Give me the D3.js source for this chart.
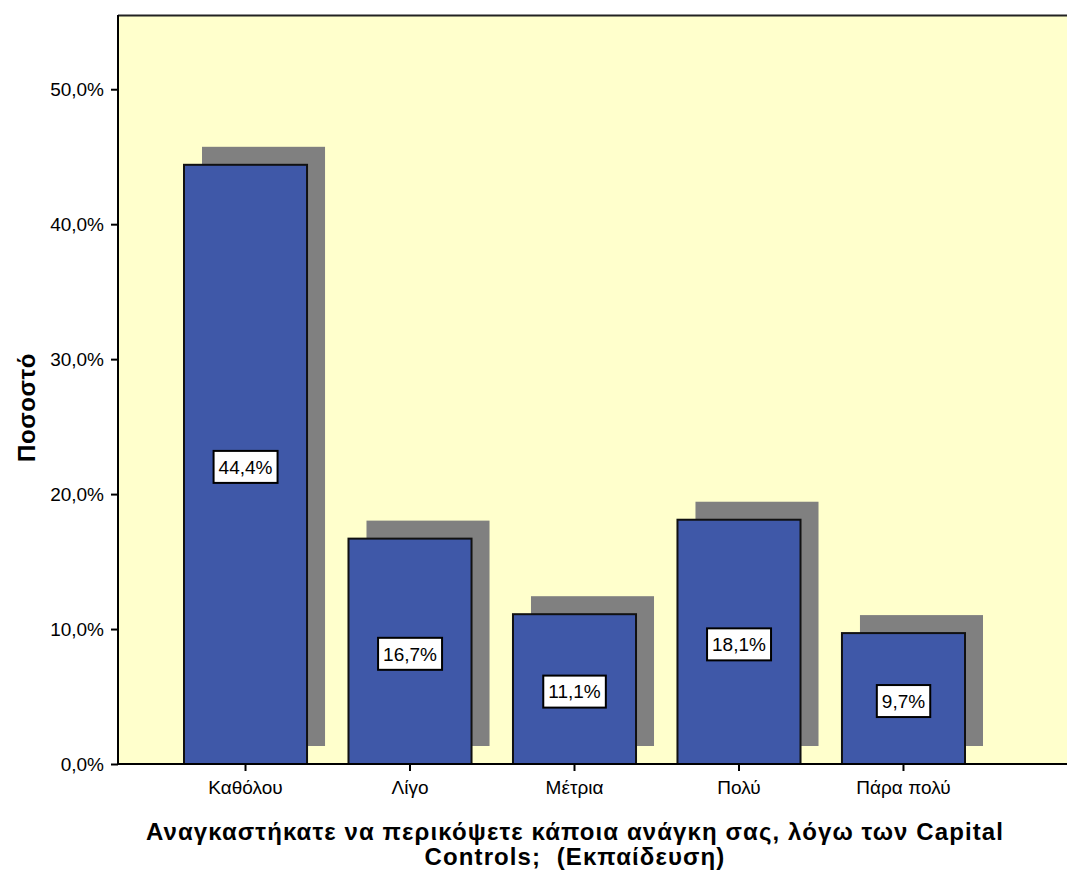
<!DOCTYPE html>
<html>
<head>
<meta charset="utf-8">
<script src="https://cdn.jsdelivr.net/npm/d3@7"></script>
<style>
  body { margin: 0; background: #ffffff; }
  svg text { font-family: Arial, "Liberation Sans", sans-serif; white-space: pre; }
</style>
</head>
<body>
<div id="chart"></div>
<script>
// data
const categories = ['Καθόλου', 'Λίγο', 'Μέτρια', 'Πολύ', 'Πάρα πολύ'];
const percents = [44.4, 16.7, 11.1, 18.1, 9.7];
const yTicks = [0, 10, 20, 30, 40, 50];
const yTitle = 'Ποσοστό';
const xTitleLines = ['Αναγκαστήκατε να περικόψετε κάποια ανάγκη σας, λόγω των Capital', 'Controls;  (Εκπαίδευση)'];

const width = 1067, height = 870;
const margin = {left: 118, top: 15, right: 0, bottom: 106};
const shadowOff = 18;
const fmt = d => d.toFixed(1).replace('.', ',') + '%';

const svg = d3.select('#chart')
    .append('svg')
    .attr('width', width)
    .attr('height', height);

const x = d3.scaleBand()
    .domain(categories)
    .range([184, 965])
    .paddingInner(0.252)
    .paddingOuter(0);

const y = d3.scaleLinear()
    .domain([0, 55.5])
    .range([height - margin.bottom, margin.top]);

// plot background
svg.append('rect')
    .attr('x', margin.left)
    .attr('y', margin.top)
    .attr('width', width - margin.left)
    .attr('height', y(0) - margin.top)
    .attr('fill', '#ffffcc');

// top frame line
svg.append('line')
    .attr('x1', margin.left).attr('x2', width)
    .attr('y1', margin.top + 0.5).attr('y2', margin.top + 0.5)
    .attr('stroke', '#222').attr('stroke-width', 2);

const bars = svg.append('g').selectAll('g.bar')
    .data(percents)
    .enter()
    .append('g')
    .attr('class', 'bar');

// grey shadow, shifted up and right
bars.append('rect')
    .attr('x', (d, i) => x(categories[i]) + shadowOff)
    .attr('y', d => y(d) - shadowOff)
    .attr('width', x.bandwidth())
    .attr('height', d => y(0) - y(d))
    .attr('fill', '#808080');

bars.append('rect')
    .attr('x', (d, i) => x(categories[i]))
    .attr('y', d => y(d))
    .attr('width', x.bandwidth())
    .attr('height', d => y(0) - y(d))
    .attr('fill', '#3f58a8')
    .attr('stroke', '#111')
    .attr('stroke-width', 2);

// value labels in white boxes
bars.each(function(d, i) {
    const g = d3.select(this);
    const cx = x(categories[i]) + x.bandwidth() / 2;
    const cy = (y(d) + y(0)) / 2 + 2.5;
    const box = g.append('rect');
    const t = g.append('text')
        .attr('x', cx)
        .attr('y', cy)
        .attr('dy', '0.36em')
        .attr('text-anchor', 'middle')
        .attr('font-size', 19)
        .attr('fill', '#000')
        .text(fmt(d));
    const bb = t.node().getBBox();
    box.attr('x', bb.x - 5)
        .attr('y', cy - 16)
        .attr('width', bb.width + 10)
        .attr('height', 32)
        .attr('fill', '#fff')
        .attr('stroke', '#000')
        .attr('stroke-width', 2);
});

// y axis
const yAxis = svg.append('g')
    .attr('transform', `translate(${margin.left},0)`)
    .call(d3.axisLeft(y)
        .tickValues(yTicks)
        .tickSize(7)
        .tickPadding(7)
        .tickFormat(fmt));
yAxis.select('.domain').remove();
yAxis.append('line')
    .attr('x1', 0).attr('x2', 0)
    .attr('y1', margin.top).attr('y2', y(0))
    .attr('stroke', '#000').attr('stroke-width', 2);
yAxis.selectAll('.tick line').attr('stroke', '#000').attr('stroke-width', 2);
yAxis.selectAll('.tick text')
    .attr('font-size', 19)
    .attr('font-family', 'Arial, "Liberation Sans", sans-serif')
    .attr('fill', '#000');

// x axis
const xAxis = svg.append('g')
    .attr('transform', `translate(0,${y(0)})`)
    .call(d3.axisBottom(x)
        .tickSize(7)
        .tickPadding(10));
xAxis.select('.domain').remove();
xAxis.append('line')
    .attr('x1', margin.left).attr('x2', width)
    .attr('y1', 0).attr('y2', 0)
    .attr('stroke', '#000').attr('stroke-width', 2);
xAxis.selectAll('.tick line').attr('stroke', '#000').attr('stroke-width', 2);
xAxis.selectAll('.tick text')
    .attr('font-size', 19)
    .attr('font-family', 'Arial, "Liberation Sans", sans-serif')
    .attr('fill', '#000');

// axis titles
svg.append('text')
    .attr('transform', `translate(35,${(margin.top + y(0)) / 2 + 18}) rotate(-90)`)
    .attr('text-anchor', 'middle')
    .attr('font-size', 24)
    .attr('font-weight', 'bold')
    .attr('letter-spacing', 0.6)
    .text(yTitle);

svg.append('g').selectAll('text')
    .data(xTitleLines)
    .enter()
    .append('text')
    .attr('x', 575)
    .attr('y', (d, i) => 840 + i * 25)
    .attr('text-anchor', 'middle')
    .attr('font-size', 24)
    .attr('font-weight', 'bold')
    .attr('letter-spacing', 1.1)
    .text(d => d);
</script>
</body>
</html>
